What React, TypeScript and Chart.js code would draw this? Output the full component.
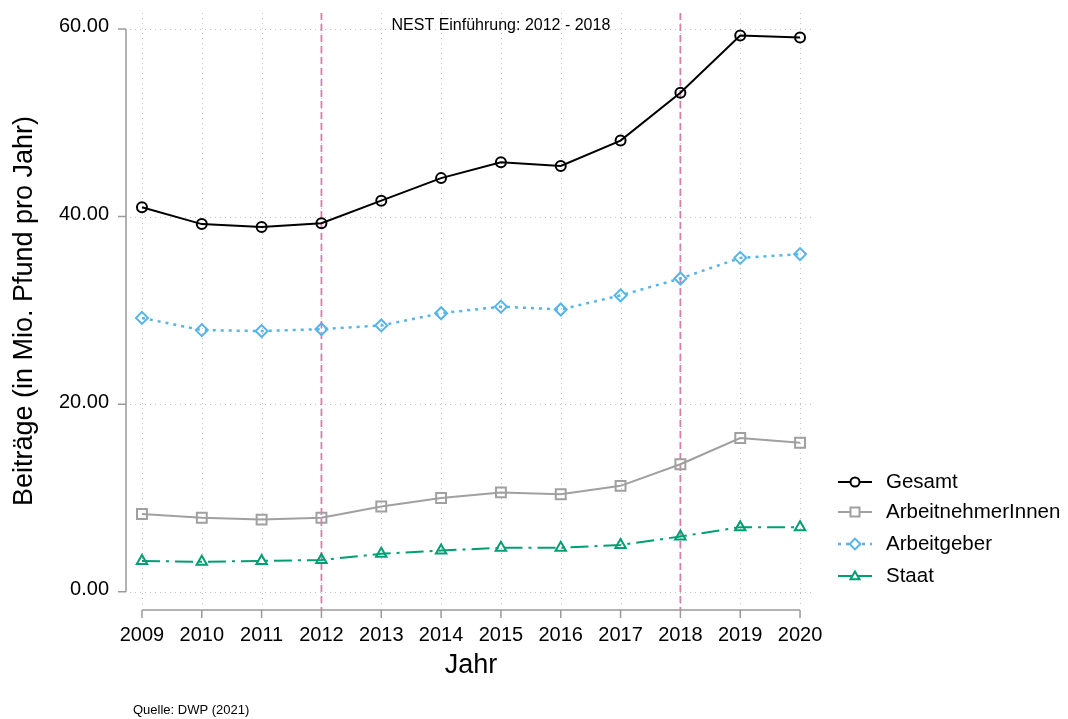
import React, { useEffect, useRef } from "react";
import { Chart, registerables } from "chart.js";

Chart.register(...registerables);

const years = [2009, 2010, 2011, 2012, 2013, 2014, 2015, 2016, 2017, 2018, 2019, 2020];
const gesamt = [41.0, 39.2, 38.9, 39.3, 41.7, 44.1, 45.8, 45.4, 48.1, 53.2, 59.3, 59.1];
const arbeitnehmer = [8.3, 7.9, 7.7, 7.9, 9.1, 10.0, 10.6, 10.4, 11.3, 13.6, 16.4, 15.9];
const arbeitgeber = [29.2, 27.9, 27.8, 28.0, 28.4, 29.7, 30.4, 30.1, 31.6, 33.4, 35.6, 36.0];
const staat = [3.3, 3.2, 3.3, 3.4, 4.05, 4.4, 4.7, 4.7, 5.0, 5.9, 6.9, 6.9];
const yTicks = [0, 20, 40, 60];
const markerYears = [2012, 2018];
const seriesNames = ["Gesamt", "ArbeitnehmerInnen", "Arbeitgeber", "Staat"];

const FONT = "'Liberation Sans', Arial, sans-serif";

const styles = [
  { color: "#000000", dash: [] as number[], point: "circle", width: 2, radius: 5 },
  { color: "#a0a0a0", dash: [] as number[], point: "rect", width: 2, radius: 7 },
  { color: "#56b4e9", dash: [3, 5], point: "rectRot", width: 2.5, radius: 6 },
  { color: "#009e73", dash: [18, 6, 3, 6], point: "triangle", width: 2, radius: 6 },
];

function drawMarker(ctx: CanvasRenderingContext2D, style: string, x: number, y: number, r: number, color: string) {
  ctx.save();
  ctx.setLineDash([]);
  ctx.strokeStyle = color;
  ctx.fillStyle = "#ffffff";
  ctx.lineWidth = 2;
  ctx.beginPath();
  if (style === "circle") {
    ctx.arc(x, y, r, 0, Math.PI * 2);
  } else if (style === "rect") {
    ctx.rect(x - r, y - r, 2 * r, 2 * r);
  } else if (style === "rectRot") {
    ctx.moveTo(x, y - r * 1.2);
    ctx.lineTo(x + r * 1.2, y);
    ctx.lineTo(x, y + r * 1.2);
    ctx.lineTo(x - r * 1.2, y);
    ctx.closePath();
  } else {
    ctx.moveTo(x, y - r);
    ctx.lineTo(x + r, y + r * 0.7);
    ctx.lineTo(x - r, y + r * 0.7);
    ctx.closePath();
  }
  ctx.fill();
  ctx.stroke();
  ctx.restore();
}

const decorPlugin = {
  id: "decor",
  beforeDatasetsDraw(chart: any) {
    const ctx: CanvasRenderingContext2D = chart.ctx;
    const xs = chart.scales.x;
    const ys = chart.scales.y;
    const area = chart.chartArea;
    ctx.save();
    // grid
    ctx.strokeStyle = "#c4c4c4";
    ctx.lineWidth = 1;
    ctx.setLineDash([1, 4]);
    yTicks.forEach((v) => {
      const py = Math.round(ys.getPixelForValue(v)) + 0.5;
      ctx.beginPath();
      ctx.moveTo(area.left, py);
      ctx.lineTo(area.right, py);
      ctx.stroke();
    });
    years.forEach((v) => {
      const px = Math.round(xs.getPixelForValue(v)) + 0.5;
      ctx.beginPath();
      ctx.moveTo(px, area.top);
      ctx.lineTo(px, area.bottom);
      ctx.stroke();
    });
    // pink vertical lines
    ctx.strokeStyle = "#d67fab";
    ctx.lineWidth = 1.8;
    ctx.setLineDash([7, 4]);
    markerYears.forEach((v) => {
      const px = xs.getPixelForValue(v);
      ctx.beginPath();
      ctx.moveTo(px, area.top);
      ctx.lineTo(px, area.bottom + 5);
      ctx.stroke();
    });
    ctx.setLineDash([]);
    // axes
    ctx.strokeStyle = "#9a9a9a";
    ctx.lineWidth = 1.5;
    const axX = 126;
    const yTop = ys.getPixelForValue(60);
    const yBot = ys.getPixelForValue(0);
    ctx.beginPath();
    ctx.moveTo(axX, yTop);
    ctx.lineTo(axX, yBot);
    yTicks.forEach((v) => {
      const py = ys.getPixelForValue(v);
      ctx.moveTo(axX, py);
      ctx.lineTo(axX - 8, py);
    });
    const axY = 610;
    ctx.moveTo(xs.getPixelForValue(years[0]), axY);
    ctx.lineTo(xs.getPixelForValue(years[years.length - 1]), axY);
    years.forEach((v) => {
      const px = xs.getPixelForValue(v);
      ctx.moveTo(px, axY);
      ctx.lineTo(px, axY + 8);
    });
    ctx.stroke();
    // tick labels
    ctx.fillStyle = "#000000";
    ctx.font = `20px ${FONT}`;
    ctx.textAlign = "right";
    ctx.textBaseline = "middle";
    yTicks.forEach((v) => {
      ctx.fillText(v.toFixed(2), 109, ys.getPixelForValue(v) - 2);
    });
    ctx.textAlign = "center";
    years.forEach((v) => {
      ctx.fillText(String(v), xs.getPixelForValue(v), 635);
    });
    // titles
    ctx.font = `27px ${FONT}`;
    ctx.fillText("Jahr", 471, 666);
    ctx.save();
    ctx.translate(25, 311);
    ctx.rotate(-Math.PI / 2);
    ctx.fillText("Beiträge (in Mio. Pfund pro Jahr)", 0, 0);
    ctx.restore();
    ctx.font = `16px ${FONT}`;
    ctx.fillText("NEST Einführung: 2012 - 2018", (xs.getPixelForValue(2012) + xs.getPixelForValue(2018)) / 2, 26);
    ctx.textAlign = "left";
    ctx.font = `13px ${FONT}`;
    ctx.fillText("Quelle: DWP (2021)", 133, 710);
    // legend
    const ly = [482, 512, 544, 576];
    seriesNames.forEach((name, i) => {
      const s = styles[i];
      ctx.save();
      ctx.strokeStyle = s.color;
      ctx.lineWidth = s.width;
      ctx.setLineDash(i === 2 ? [3, 5] : []);
      ctx.beginPath();
      ctx.moveTo(838, ly[i]);
      ctx.lineTo(872, ly[i]);
      ctx.stroke();
      ctx.restore();
      drawMarker(ctx, s.point, 855, ly[i], 4.5, s.color);
      ctx.fillStyle = "#000000";
      ctx.font = `20.5px ${FONT}`;
      ctx.textAlign = "left";
      ctx.textBaseline = "middle";
      ctx.fillText(name, 886, ly[i]);
    });
    ctx.restore();
  },
};

export default function App() {
  const ref = useRef<HTMLCanvasElement>(null);
  useEffect(() => {
    if (!ref.current) return;
    const seriesData = [gesamt, arbeitnehmer, arbeitgeber, staat];
    const chart = new Chart(ref.current, {
      type: "line",
      data: {
        datasets: seriesData.map((d, i) => ({
          label: seriesNames[i],
          data: d.map((v, j) => ({ x: years[j], y: v })),
          borderColor: styles[i].color,
          borderWidth: styles[i].width,
          borderDash: styles[i].dash,
          pointStyle: styles[i].point as any,
          pointRadius: styles[i].radius,
          pointBorderWidth: 2,
          pointBackgroundColor: "rgba(255,255,255,0)",
          pointBorderColor: styles[i].color,
          tension: 0,
          fill: false,
        })),
      },
      options: {
        animation: false,
        responsive: false,
        devicePixelRatio: 1,
        layout: { padding: { left: 130, right: 253, top: 13, bottom: 114 } },
        plugins: { legend: { display: false }, tooltip: { enabled: false } },
        scales: {
          x: { type: "linear", min: 2008.8, max: 2020.25, display: false },
          y: { type: "linear", min: -1.4, max: 61.7, display: false },
        },
      },
      plugins: [decorPlugin],
    });
    return () => chart.destroy();
  }, []);
  return (
    <div style={{ position: "fixed", left: 0, top: 0, width: 1068, height: 719, background: "#fff" }}>
      <canvas ref={ref} width={1068} height={719} style={{ width: 1068, height: 719 }} />
    </div>
  );
}
